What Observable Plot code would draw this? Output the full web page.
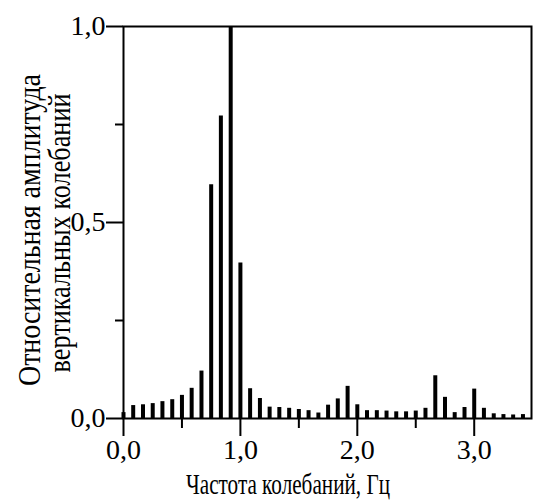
<!DOCTYPE html>
<html>
<head>
<meta charset="utf-8">
<script src="https://cdn.jsdelivr.net/npm/d3@7"></script>
<script src="https://cdn.jsdelivr.net/npm/@observablehq/plot@0.6"></script>
<style>
  html, body { margin: 0; padding: 0; background: #fff; }
  svg, svg text { font-family: "Liberation Serif", "Times New Roman", Times, serif !important; }
</style>
</head>
<body>
<div id="chart"></div>
<script>
const frequencies = [0, 0.083, 0.167, 0.25, 0.333, 0.417, 0.5, 0.583, 0.667, 0.75, 0.833, 0.917,
  1.0, 1.083, 1.167, 1.25, 1.333, 1.417, 1.5, 1.583, 1.667, 1.75, 1.833, 1.917,
  2.0, 2.083, 2.167, 2.25, 2.333, 2.417, 2.5, 2.583, 2.667, 2.75, 2.833, 2.917,
  3.0, 3.083, 3.167, 3.25, 3.333, 3.417];
const amplitudes = [0.015, 0.033, 0.035, 0.038, 0.043, 0.048, 0.059, 0.077, 0.121, 0.596, 0.772, 1.0,
  0.397, 0.076, 0.051, 0.029, 0.028, 0.026, 0.023, 0.020, 0.014, 0.034, 0.050, 0.082,
  0.035, 0.020, 0.020, 0.019, 0.017, 0.017, 0.019, 0.026, 0.109, 0.054, 0.015, 0.028,
  0.075, 0.026, 0.012, 0.010, 0.009, 0.010];
const xMajorTicks = [0, 1, 2, 3];
const xMinorTicks = [0.5, 1.5, 2.5];
const yMajorTicks = [0, 0.5, 1];
const yMinorTicks = [0.25, 0.75];
const xTitle = "Частота колебаний, Гц";
const yTitleLines = ["Относительная амплитуда", "вертикальных колебаний"];

const data = frequencies.map((f, i) => ({f, a: amplitudes[i]}));
const fmt = d => d.toFixed(1).replace(".", ",");

const plot = Plot.plot({
  width: 533,
  height: 503,
  marginLeft: 123,
  marginRight: 2,
  marginTop: 26,
  marginBottom: 85,
  style: {color: "black", background: "white"},
  x: {domain: [0, 3.49]},
  y: {domain: [0, 1]},
  marks: [
    Plot.ruleX(data, {x: "f", y1: 0, y2: "a", stroke: "black", strokeWidth: 4}),
    Plot.frame({stroke: "black", strokeWidth: 2}),
    Plot.axisY(yMajorTicks, {tickSize: 17, tickPadding: 1, tickFormat: fmt, fontSize: 28, strokeWidth: 2, label: null}),
    Plot.axisY(yMinorTicks, {tickSize: 8, tickFormat: () => "", strokeWidth: 2, label: null}),
    Plot.axisX(xMajorTicks, {tickSize: 18, tickPadding: 3, tickFormat: fmt, fontSize: 28, strokeWidth: 2, label: null}),
    Plot.axisX(xMinorTicks, {tickSize: 10, tickFormat: () => "", strokeWidth: 2, label: null})
  ]
});

const svg = d3.select(plot);
svg.append("text")
  .attr("x", 288).attr("y", 494)
  .attr("text-anchor", "middle")
  .attr("font-size", 30)
  .attr("textLength", 204)
  .attr("lengthAdjust", "spacingAndGlyphs")
  .attr("fill", "black")
  .text(xTitle);

const yt = svg.append("g")
  .attr("transform", "rotate(-90)");
yt.append("text")
  .attr("x", -230).attr("y", 40)
  .attr("text-anchor", "middle")
  .attr("font-size", 31)
  .attr("textLength", 312)
  .attr("lengthAdjust", "spacingAndGlyphs")
  .attr("fill", "black")
  .text(yTitleLines[0]);
yt.append("text")
  .attr("x", -233).attr("y", 70)
  .attr("text-anchor", "middle")
  .attr("font-size", 31)
  .attr("textLength", 279)
  .attr("lengthAdjust", "spacingAndGlyphs")
  .attr("fill", "black")
  .text(yTitleLines[1]);

document.getElementById("chart").appendChild(plot);
</script>
</body>
</html>
